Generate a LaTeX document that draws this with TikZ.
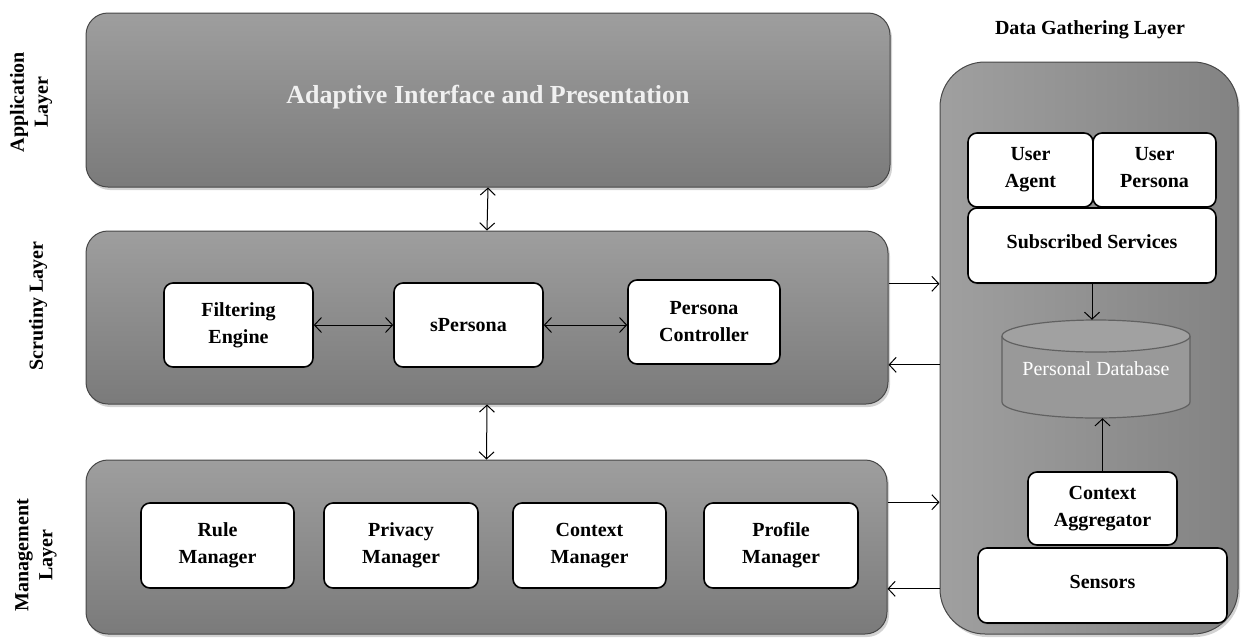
\documentclass[tikz,border=0pt]{standalone}
\usepackage{fontspec}
\setmainfont{Liberation Serif}
\usetikzlibrary{shadows,arrows.meta}

\definecolor{boxtop}{gray}{0.62}
\definecolor{boxbot}{gray}{0.48}
\definecolor{boxedge}{gray}{0.28}
\definecolor{dbfill}{gray}{0.60}
\definecolor{dbtopfill}{gray}{0.63}
\definecolor{dbedge}{gray}{0.38}

\begin{document}
\begin{tikzpicture}[x=1pt,y=-1pt]

	\tikzset{layer/.style={draw=boxedge, line width=1pt, rounded corners=22pt, top color=boxtop, bottom color=boxbot, inner sep=0pt, drop shadow={opacity=0.35, shadow xshift=2pt, shadow yshift=-3pt}}}
	\tikzset{unit/.style={draw, line width=1.6pt, fill=white, rounded corners=9pt, align=center, inner sep=0pt, font=\fontsize{20}{27}\selectfont\bfseries, drop shadow={opacity=0.3, shadow xshift=1pt, shadow yshift=-2pt}}}
	\tikzset{side/.style={rotate=90, align=center, font=\fontsize{20}{24}\selectfont\bfseries}}
	\tikzset{link/.style={line width=1pt, arrows={[length=7pt,width=15pt]}, >={Straight Barb}}}

	\useasboundingbox (0,0) rectangle (1242,638);

	% layers on the left
	\node[layer, minimum width=804pt, minimum height=174pt, text=white!94!black, font=\fontsize{26}{30}\selectfont\bfseries] (app) at (488,100) {\raisebox{12pt}{Adaptive Interface and Presentation}};
	\node[layer, minimum width=802pt, minimum height=173pt] (scrut) at (487,317.5) {};
	\node[layer, minimum width=801pt, minimum height=174pt] (mgmt) at (486.5,547) {};

	% layer names
	\node[side] (applbl) at (31,102) {Application\\Layer};
	\node[side] (scrutlbl) at (38,306) {Scrutiny Layer};
	\node[side] (mgmtlbl) at (36,555) {Management\\Layer};

	% scrutiny units
	\node[unit, minimum width=149pt, minimum height=84pt] (fe) at (238.5,325) {Filtering\\Engine};
	\node[unit, minimum width=149pt, minimum height=84pt] (sp) at (468.5,325) {sPersona};
	\node[unit, minimum width=152pt, minimum height=84pt] (pc) at (704,322) {Persona\\Controller};

	% management units
	\node[unit, minimum width=153pt, minimum height=85pt] (rule) at (217.5,545.5) {Rule\\Manager};
	\node[unit, minimum width=154pt, minimum height=85pt] (priv) at (401,545.5) {Privacy\\Manager};
	\node[unit, minimum width=153pt, minimum height=85pt] (ctxm) at (589.5,545.5) {Context\\Manager};
	\node[unit, minimum width=154pt, minimum height=85pt] (prof) at (781,545.5) {Profile\\Manager};

	% data gathering layer
	\node[font=\fontsize{20}{22}\selectfont\bfseries] (title) at (1090,30) {Data Gathering Layer};
	\node[draw=boxedge, line width=1pt, rounded corners=45pt, left color=gray!64!black!55, right color=gray!70!black!75, minimum width=298pt, minimum height=572pt, drop shadow={opacity=0.35, shadow xshift=2pt, shadow yshift=-3pt}] (data) at (1089,348) {};

	\node[unit, minimum width=125pt, minimum height=74pt] (ua) at (1030.5,170) {User\\Agent};
	\node[unit, minimum width=123pt, minimum height=74pt] (up) at (1154.5,170) {User\\Persona\vphantom{g}};
	\node[unit, minimum width=248pt, minimum height=75pt] (ss) at (1092,245.5) {\raisebox{8pt}{Subscribed Services}};

	% database cylinder
	\fill[dbfill] (1002,336) rectangle (1190,402);
	\fill[dbfill] (1096,402) ellipse (94pt and 16pt);
	\draw[dbedge, line width=1.2pt] (1002,336) -- (1002,402) arc[start angle=180, end angle=360, x radius=94pt, y radius=16pt] -- (1190,336);
	\filldraw[fill=dbtopfill, draw=dbedge, line width=1.2pt] (1096,336) ellipse (94pt and 16pt);
	\node[minimum width=188pt, minimum height=98pt, inner sep=0pt, text=white, font=\fontsize{20}{22}\selectfont] (db) at (1096,369) {\raisebox{-4pt}{Personal Database}};

	\node[unit, minimum width=149pt, minimum height=73pt] (ca) at (1102.5,508.5) {Context\\Aggregator};
	\node[unit, minimum width=249pt, minimum height=75pt] (sens) at (1102.5,585.5) {\raisebox{8pt}{Sensors}};

	% connectors
	\draw[link, <->] (app.south) -- (scrut.north);
	\draw[link, <->] (scrut.south) -- (mgmt.north);
	\draw[link, <->] (fe.east) -- (fe.east -| sp.west);
	\draw[link, <->] (sp.east) -- (sp.east -| pc.west);
	\draw[link, ->] (ss.south) -- (ss.south |- db.north);
	\draw[link, ->] (ca.north) -- (ca.north |- db.south);

	\draw[link, ->] (scrut.east |- ss.south) -- (data.west |- ss.south);
	\draw[link, ->] (data.west |- pc.south) -- (scrut.east |- pc.south);
	\draw[link, ->] (mgmt.east |- prof.north) -- (data.west |- prof.north);
	\draw[link, ->] (data.west |- prof.south) -- (mgmt.east |- prof.south);

\end{tikzpicture}
\end{document}
